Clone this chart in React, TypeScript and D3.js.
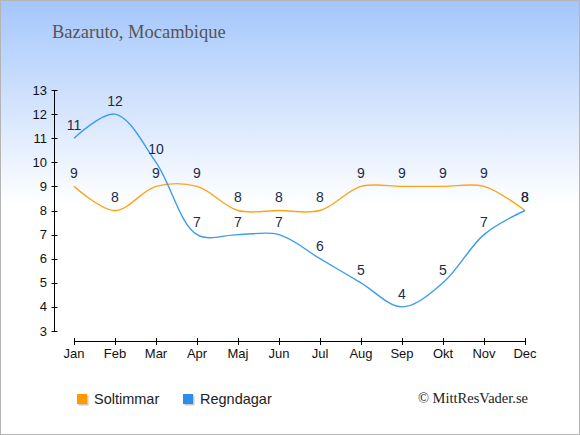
import React from 'react';
import * as d3 from 'd3';

const months = ['Jan', 'Feb', 'Mar', 'Apr', 'Maj', 'Jun', 'Jul', 'Aug', 'Sep', 'Okt', 'Nov', 'Dec'];
const soltimmar = [9, 8, 9, 9, 8, 8, 8, 9, 9, 9, 9, 8];
const regndagar = [11, 12, 10, 7, 7, 7, 6, 5, 4, 5, 7, 8];
const yTicks = [3, 4, 5, 6, 7, 8, 9, 10, 11, 12, 13];

const W = 580;
const H = 435;
const sans = '"Liberation Sans", Arial, sans-serif';
const serif = '"Liberation Serif", "Times New Roman", serif';

const series = [
  { name: 'Soltimmar', values: soltimmar, color: '#ffa31a', legend: '#ff9900' },
  { name: 'Regndagar', values: regndagar, color: '#3d9cf0', legend: '#2b8fe8' },
];

const App = () => {
  const x = d3.scalePoint<string>().domain(months).range([74, 525]);
  const y = d3.scaleLinear().domain([3, 13]).range([331, 90]);

  const line = d3
    .line<number>()
    .curve(d3.curveCatmullRom.alpha(0.5))
    .x((_, i) => x(months[i]) ?? 0)
    .y((d) => y(d));

  return (
    <svg
      width={W}
      height={H}
      style={{ position: 'fixed', left: 0, top: 0 }}
      fontFamily={sans}
    >
      <defs>
        <linearGradient id="bg" x1="0" y1="0" x2="0" y2={H} gradientUnits="userSpaceOnUse">
          <stop offset="0" stopColor="#a4c6fb" />
          <stop offset="0.47" stopColor="#ffffff" />
          <stop offset="1" stopColor="#ffffff" />
        </linearGradient>
      </defs>
      <rect x={0.5} y={0.5} width={W - 1} height={H - 1} fill="url(#bg)" stroke="#b4b4b4" />

      <text x={52} y={38} fontFamily={serif} fontSize={18.5} fill="#555555">
        Bazaruto, Mocambique
      </text>

      {/* y axis */}
      <line x1={54.5} x2={54.5} y1={y(13)} y2={y(3)} stroke="#000" />
      {yTicks.map((t) => (
        <g key={t}>
          <line x1={51.5} x2={57.5} y1={Math.round(y(t)) + 0.5} y2={Math.round(y(t)) + 0.5} stroke="#000" />
          <text x={47} y={y(t)} dy="0.35em" textAnchor="end" fontSize={13} fill="#111">
            {t}
          </text>
        </g>
      ))}

      {/* x axis */}
      <line x1={x('Jan')} x2={x('Dec')} y1={341.5} y2={341.5} stroke="#000" />
      {months.map((m) => (
        <g key={m}>
          <line x1={Math.round(x(m) ?? 0) + 0.5} x2={Math.round(x(m) ?? 0) + 0.5} y1={338} y2={345} stroke="#000" />
          <text x={x(m)} y={353} dy="0.35em" textAnchor="middle" fontSize={13} fill="#111">
            {m}
          </text>
        </g>
      ))}

      {series.map((s) => (
        <g key={s.name}>
          <path d={line(s.values) ?? ''} fill="none" stroke={s.color} strokeWidth={1.4} />
          {s.values.map((v, i) => (
            <text
              key={i}
              x={x(months[i])}
              y={y(v) - 13}
              dy="0.35em"
              textAnchor="middle"
              fontSize={14}
              fill="#1d2b48"
            >
              {v}
            </text>
          ))}
        </g>
      ))}

      {/* legend */}
      {series.map((s, i) => {
        const lx = 77 + i * 106;
        return (
          <g key={s.name}>
            <rect x={lx + 1.5} y={395.5} width={10} height={10} fill="#c9c9c9" />
            <rect x={lx} y={394} width={10} height={10} fill={s.legend} />
            <text x={lx + 17} y={399} dy="0.35em" fontSize={14.5} fill="#222">
              {s.name}
            </text>
          </g>
        );
      })}

      <text x={528} y={398} dy="0.35em" textAnchor="end" fontFamily={serif} fontSize={14.5} fill="#222">
        © MittResVader.se
      </text>
    </svg>
  );
};

export default App;
